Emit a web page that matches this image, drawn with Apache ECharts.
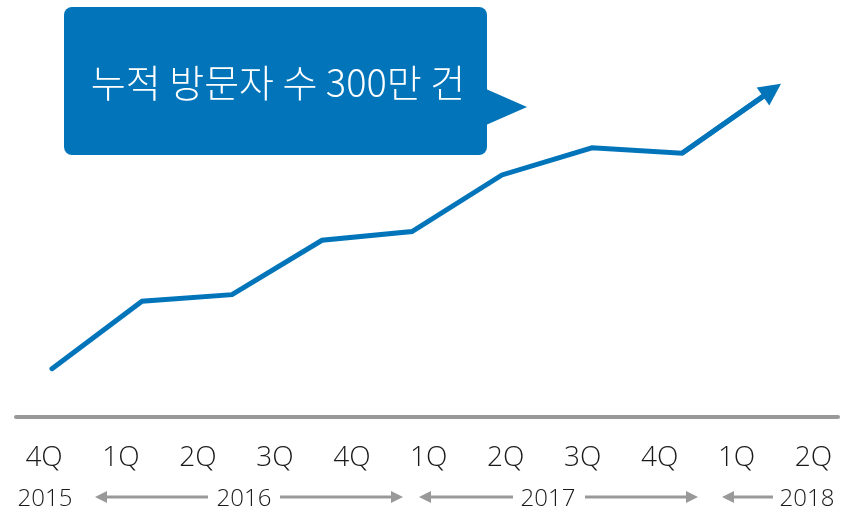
<!DOCTYPE html>
<html>
<head>
<meta charset="utf-8">
<script src="https://cdn.jsdelivr.net/npm/echarts@6/dist/echarts.min.js"></script>
<style>
html,body{margin:0;padding:0;background:#fff;}
#chart{width:852px;height:512px;}
</style>
</head>
<body>
<div id="chart"></div>
<script>
// ---- data ----
const quarterLabels = ['4Q','1Q','2Q','3Q','4Q','1Q','2Q','3Q','4Q','1Q','2Q'];
const yearLabels = ['2015','2016','2017','2018'];
const visitors = [44, 106, 112, 162, 170, 222, 247, 242, 300];
const calloutText = '누적 방문자 수 300만 건';

// ---- styles ----
const BLUE = '#0275BA';
const GRAY = '#999999';
const TEXT = '#1a1a1a';
const LATIN = '"Open Sans", "Liberation Sans", sans-serif';
const KR = '"Noto Sans CJK KR", sans-serif';

const chart = echarts.init(document.getElementById('chart'), null, {renderer: 'canvas'});

function arrow(x1, x2, y, headLeft) {
  const els = [];
  const hl = 12, hh = 6;
  if (headLeft) {
    els.push({type: 'line', shape: {x1: x1 + hl - 1, y1: y, x2: x2, y2: y}, style: {stroke: GRAY, lineWidth: 3}});
    els.push({type: 'polygon', shape: {points: [[x1, y], [x1 + hl, y - hh], [x1 + hl, y + hh]]}, style: {fill: GRAY}});
  } else {
    els.push({type: 'line', shape: {x1: x1, y1: y, x2: x2 - hl + 1, y2: y}, style: {stroke: GRAY, lineWidth: 3}});
    els.push({type: 'polygon', shape: {points: [[x2, y], [x2 - hl, y - hh], [x2 - hl, y + hh]]}, style: {fill: GRAY}});
  }
  return els;
}

const yearX = [45, 244, 548, 807];
const yearText = yearLabels.map((t, i) => ({
  type: 'text',
  x: yearX[i], y: 499,
  style: {text: t, align: 'center', verticalAlign: 'middle',
          fontSize: 24, fontWeight: 300, fontFamily: LATIN, fill: TEXT}
}));

const graphics = [
  {type: 'rect', shape: {x: 64, y: 7, width: 423, height: 148, r: 8}, style: {fill: BLUE}},
  {type: 'polygon', shape: {points: [[486, 89], [527, 107], [486, 125]]}, style: {fill: BLUE}},
  {type: 'text', x: 278, y: 83,
   style: {text: calloutText, align: 'center', verticalAlign: 'middle',
           fontSize: 38, fontWeight: 300, fontFamily: KR, fill: '#ffffff'}},
  ...yearText,
  ...arrow(95, 208, 497, true),
  ...arrow(280, 403, 497, false),
  ...arrow(419, 513, 497, true),
  ...arrow(585, 698, 497, false),
  ...arrow(722, 773, 497, true)
];

const n = visitors.length;
const option = {
  animation: false,
  backgroundColor: '#ffffff',
  grid: [
    {left: 16, right: 14, top: 35.7, bottom: 95.5},
    {left: 5.6, right: -9.4, top: 35.7, bottom: 95.5}
  ],
  xAxis: [
    {type: 'value', gridIndex: 0, min: -0.4, max: 8.7333,
     axisLine: {show: true, onZero: false, lineStyle: {color: GRAY, width: 4}},
     axisTick: {show: false}, axisLabel: {show: false}, splitLine: {show: false}},
    {type: 'category', gridIndex: 1, data: quarterLabels, boundaryGap: true,
     axisLine: {show: false}, axisTick: {show: false}, splitLine: {show: false},
     axisLabel: {show: true, interval: 0, margin: 27.5, fontSize: 28, fontWeight: 300,
                 fontFamily: LATIN, color: TEXT}}
  ],
  yAxis: [
    {type: 'value', gridIndex: 0, min: 0, max: 350, show: false},
    {type: 'value', gridIndex: 1, min: 0, max: 350, show: false}
  ],
  series: [
    {
      type: 'line',
      xAxisIndex: 0, yAxisIndex: 0,
      data: visitors.map((v, i) => [i, v]),
      showSymbol: false,
      symbol: 'none',
      lineStyle: {color: BLUE, width: 5, cap: 'round', join: 'miter'},
      z: 3
    },
    {
      type: 'lines',
      coordinateSystem: 'cartesian2d',
      xAxisIndex: 0, yAxisIndex: 0,
      symbol: ['none', 'triangle'],
      symbolSize: [25, 22],
      lineStyle: {color: BLUE, width: 5, opacity: 1},
      itemStyle: {color: BLUE},
      data: [{coords: [[n - 2, visitors[n - 2]], [n - 1, visitors[n - 1]]]}],
      z: 4
    }
  ],
  graphic: graphics
};
chart.setOption(option);
</script>
</body>
</html>
